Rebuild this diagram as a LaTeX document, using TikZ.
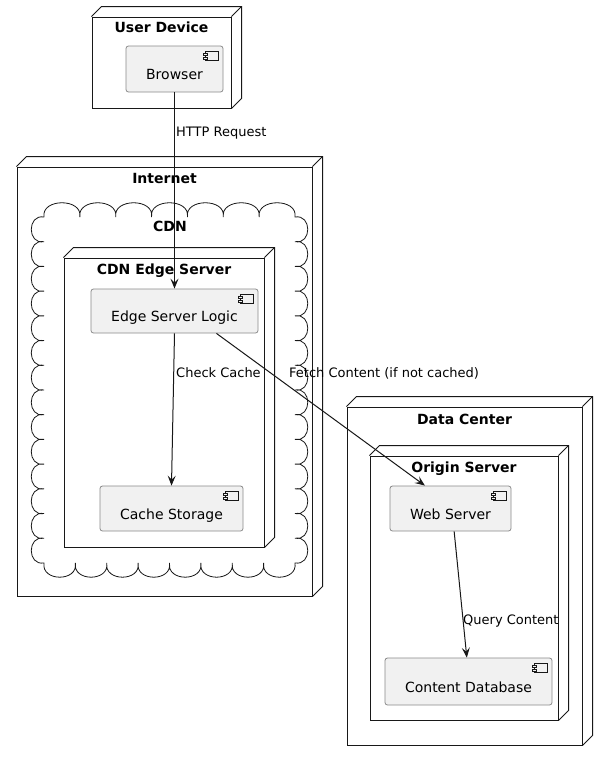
\documentclass[tikz,border=0pt]{standalone}
\usepackage{fontspec}
\setmainfont{DejaVu Sans}
\usetikzlibrary{arrows.meta,calc,fit}
\definecolor{ink}{HTML}{181818}
\definecolor{compfill}{HTML}{F1F1F1}
\definecolor{compline}{HTML}{8A8A8A}
\tikzset{
  frontbox/.style={draw=ink, line width=1pt, fill=white, inner sep=0pt},
  sideface/.style={draw=ink, line width=1pt, line join=miter},
  comp/.style={draw=compline, line width=0.8pt, fill=compfill, rounded corners=2.5pt, inner sep=0pt},
  compicon/.style={draw=ink, line width=0.5pt, fill=compfill},
  ttl/.style={font=\fontsize{14}{16}\selectfont\bfseries, inner sep=0pt, text height=10pt, text depth=0pt},
  ctxt/.style={font=\fontsize{14}{16}\selectfont, inner sep=0pt, text height=10pt, text depth=0pt},
  lbl/.style={font=\fontsize{13}{15}\selectfont, inner sep=0pt, anchor=west, text height=9.5pt, text depth=0pt},
  arr/.style={draw=ink, line width=1pt, -{Stealth[length=10pt,width=8pt,inset=4pt]}},
  cloudline/.style={draw=ink, line width=0.8pt}
}
\newcommand{\nodeThreeD}[1]{%
  \draw[sideface] (#1.north west) -- ++(10,-10) -| ($(#1.south east)+(10,-10)$) -- (#1.south east);
  \draw[sideface] (#1.north east) -- ++(10,-10);
}
\newcommand{\compIcon}[1]{%
  \draw[compicon] ($(#1.north east)+(-18,6)$) rectangle ++(13,9);
  \draw[compicon] ($(#1.north east)+(-20,8)$) rectangle ++(4,2);
  \draw[compicon] ($(#1.north east)+(-20,12)$) rectangle ++(4,2);
}
\begin{document}
\begin{tikzpicture}[x=1pt,y=-1pt]
\useasboundingbox (0,0) rectangle (608,761);
\fill[white] (0,0) rectangle (608,761);

% ---- User Device
\node[frontbox, fit={(92,17) (231,108)}] (ud) {};
\nodeThreeD{ud}
\node[ttl] (udt) at (161.5,27) {User Device};
\node[comp, fit={(126,46) (223,92)}] (browser) {};
\compIcon{browser}
\node[ctxt] (browsert) at (174.5,74) {Browser};

% ---- Internet
\node[frontbox, fit={(17,167) (312,596)}] (inet) {};
\nodeThreeD{inet}
\node[ttl] (inett) at (164.5,178) {Internet};

% CDN cloud
\draw[cloudline] (44,217)
  \foreach \i in {1,...,7} { .. controls +(-3,-19) and +(3,-19) .. ++(35.86,0) }
  \foreach \i in {1,...,14} { .. controls +(17,-3) and +(17,3) .. ++(0,24.71) }
  \foreach \i in {1,...,8} { .. controls +(3,19) and +(-3,19) .. ++(-31.375,0) }
  \foreach \i in {1,...,14} { .. controls +(-17,3) and +(-17,-3) .. ++(0,-24.71) }
  -- cycle;
\node[ttl] (cdnt) at (170,226) {CDN};

% CDN Edge Server
\node[frontbox, fit={(64,258) (264,547)}] (edge) {};
\nodeThreeD{edge}
\node[ttl] (edget) at (164,269) {CDN Edge Server};
\node[comp, fit={(91,289) (258,333)}] (esl) {};
\compIcon{esl}
\node[ctxt] (eslt) at (174.5,316) {Edge Server Logic};
\node[comp, fit={(100,486) (243,531)}] (cache) {};
\compIcon{cache}
\node[ctxt] (cachet) at (171.5,514) {Cache Storage};

% ---- Data Center
\node[frontbox, fit={(347,407) (582,745)}] (dc) {};
\nodeThreeD{dc}
\node[ttl] (dct) at (464.5,419) {Data Center};
\node[frontbox, fit={(370,456) (558,720)}] (origin) {};
\nodeThreeD{origin}
\node[ttl] (origint) at (464,467) {Origin Server};
\node[comp, fit={(390,486) (511,531)}] (web) {};
\compIcon{web}
\node[ctxt] (webt) at (450.5,514) {Web Server};
\node[comp, fit={(385,658) (552,705)}] (cdb) {};
\compIcon{cdb}
\node[ctxt] (cdbt) at (468.5,687) {Content Database};

% ---- Connectors
\draw[arr] (browser.south) -- (esl.north);
\draw[arr] (esl.south) -- (cache.north);
\draw[arr] ($(esl.south west)!0.75!(esl.south east)$) -- ($(web.north west)!0.29!(web.north east)$);
\draw[arr] ($(web.south west)!0.53!(web.south east)$) -- ($(cdb.north west)!0.49!(cdb.north east)$);

% ---- Labels
\node[lbl] (l1) at (176,132) {HTTP Request};
\node[lbl] (l2) at (176,373) {Check Cache};
\node[lbl] (l3) at (289,373) {Fetch Content (if not cached)};
\node[lbl] (l4) at (463,620) {Query Content};
\end{tikzpicture}
\end{document}
